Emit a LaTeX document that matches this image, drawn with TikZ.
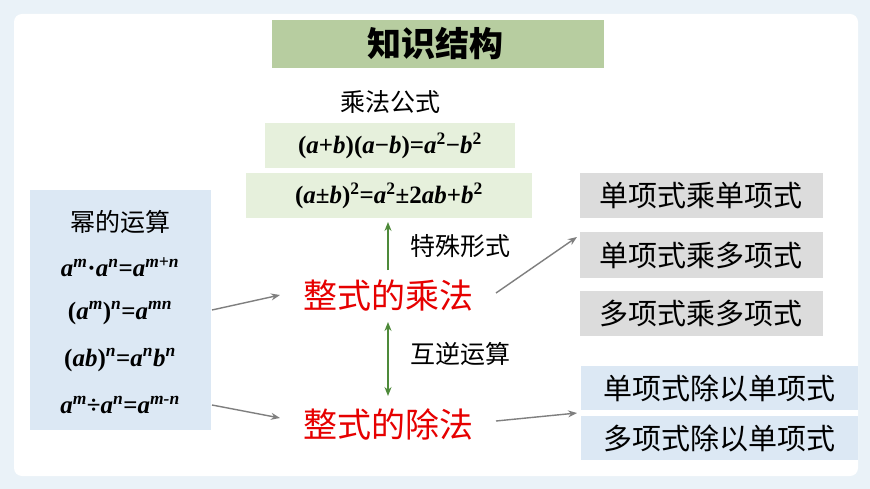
\documentclass[tikz,border=0pt]{standalone}
\usepackage{fontspec}
\setmainfont{Liberation Serif}
\newfontfamily\cjk{Noto Sans CJK SC}
\usetikzlibrary{arrows.meta}
\definecolor{bgc}{HTML}{EAF2F8}
\definecolor{grn}{HTML}{E6F0DC}
\definecolor{ttl}{HTML}{B7CDA0}
\definecolor{blu}{HTML}{DCE8F4}
\definecolor{gry}{HTML}{DCDCDC}
\definecolor{arr}{HTML}{7F7F7F}
\definecolor{garr}{HTML}{4E8A3A}
\newcommand{\vi}[1]{\textit{#1}}
\tikzset{
 fm/.style={font=\fontsize{25}{28}\selectfont\bfseries},
 cn/.style={font=\cjk\fontsize{25}{28}\selectfont},
 red/.style={font=\cjk\fontsize{34}{38}\selectfont, text={rgb,255:red,230;green,0;blue,0}},
 gbox/.style={fill=gry, minimum width=243, minimum height=45, font=\cjk\fontsize{29}{32}\selectfont},
 bbox/.style={fill=blu, minimum width=277, minimum height=44, font=\cjk\fontsize{29}{32}\selectfont},
 ga/.style={draw=arr, line width=1.4pt, -{Stealth[length=9pt,width=7pt]}},
}
\begin{document}
\begin{tikzpicture}[x=1pt,y=-1pt]
\useasboundingbox (0,0) rectangle (870,489);
\fill[bgc] (0,0) rectangle (870,489);
\fill[white, rounded corners=8] (14,14) rectangle (858,476);
\fill[ttl] (272,20) rectangle (604,68);
\node[font=\cjk\bfseries\fontsize{34}{38}\selectfont] (title) at (435,44) {知识结构};
\node[cn] (mf) at (390,102) {乘法公式};
\fill[grn] (265,123) rectangle (515,168);
\node[fm] (f1) at (390,146) {(\vi{a}+\vi{b})(\vi{a}−\vi{b})=\vi{a}\textsuperscript{2}−\vi{b}\textsuperscript{2}};
\fill[grn] (246,173) rectangle (532,218);
\node[fm] (f2) at (389,196) {(\vi{a}±\vi{b})\textsuperscript{2}=\vi{a}\textsuperscript{2}±2\vi{ab}+\vi{b}\textsuperscript{2}};
\fill[blu] (30,190) rectangle (211,430);
\node[cn] (mi) at (120,222) {幂的运算};
\node[fm] (p1) at (120,267) {\vi{a\textsuperscript{m}}·\vi{a\textsuperscript{n}}=\vi{a\textsuperscript{m+n}}};
\node[fm] (p2) at (120,313) {(\vi{a\textsuperscript{m}})\textsuperscript{\vi{n}}=\vi{a\textsuperscript{mn}}};
\node[fm] (p3) at (120,360) {(\vi{ab})\textsuperscript{\vi{n}}=\vi{a\textsuperscript{n}b\textsuperscript{n}}};
\node[fm] (p4) at (120,405) {\vi{a\textsuperscript{m}}÷\vi{a\textsuperscript{n}}=\vi{a\textsuperscript{m-n}}};
\node[red] (mul) at (388,296) {整式的乘法};
\node[red] (div) at (388,424) {整式的除法};
\coordinate (u1) at (388,270); \coordinate (u2) at (388,222);
\draw[draw=garr, line width=1.4pt, -{Stealth[length=9pt,width=7pt]}] (u1) -- (u2);
\node[cn] (ts) at (460,246) {特殊形式};
\coordinate (d1) at (388,322); \coordinate (d2) at (388,396);
\draw[draw=garr, line width=1.4pt, {Stealth[length=9pt,width=7pt]}-{Stealth[length=9pt,width=7pt]}] (d1) -- (d2);
\node[cn] (hn) at (460,354) {互逆运算};
\node[gbox] (g1) at (701,196) {单项式乘单项式};
\node[gbox] (g2) at (701,255) {单项式乘多项式};
\node[gbox] (g3) at (701,313) {多项式乘多项式};
\node[bbox] (b1) at (719,388) {单项式除以单项式};
\node[bbox] (b2) at (719,438) {多项式除以单项式};
\coordinate (a1) at (212,310); \coordinate (a2) at (280,295);
\coordinate (a3) at (212,405); \coordinate (a4) at (280,418);
\coordinate (a5) at (496,293); \coordinate (a6) at (577,237);
\coordinate (a7) at (496,421); \coordinate (a8) at (577,413);
\draw[ga] (a1) -- (a2);
\draw[ga] (a3) -- (a4);
\draw[ga] (a5) -- (a6);
\draw[ga] (a7) -- (a8);
\end{tikzpicture}
\end{document}
